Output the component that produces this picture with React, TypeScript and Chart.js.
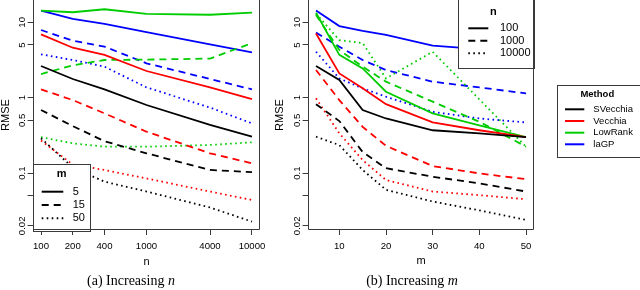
import React, { useEffect, useRef } from 'react';
import { Chart, registerables } from 'chart.js';

Chart.register(...registerables);

// ---------------- data ----------------
const nValues = [100, 200, 400, 1000, 4000, 10000];
const mValues = [5, 10, 15, 20, 30, 40, 50];

const yTickValues = [0.02, 0.05, 0.1, 0.5, 1, 5, 10];
const yTickLabels = ['0.02', '', '0.1', '0.5', '1', '5', '10'];
const nTickValues = [100, 200, 400, 1000, 4000, 10000];
const nTickLabels = ['100', '200', '400', '1000', '4000', '10000'];
const mTickValues = [10, 20, 30, 40, 50];
const mTickLabels = ['10', '20', '30', '40', '50'];

const methodNames = ['SVecchia', 'Vecchia', 'LowRank', 'laGP'];
const methodColors = ['#000000', '#FF0000', '#00CD00', '#0000FF'];
const mLegendTitle = 'm';
const mLegendLabels = ['5', '15', '50'];
const nLegendTitle = 'n';
const nLegendLabels = ['100', '1000', '10000'];
const methodLegendTitle = 'Method';

// Panel (a): RMSE vs n (m = 5, 15, 50)
const aSVecchiaM5 = [2.63, 1.77, 1.29, 0.8, 0.435, 0.304];
const aSVecchiaM15 = [0.687, 0.42, 0.265, 0.183, 0.11, 0.103];
const aSVecchiaM50 = [0.29, 0.118, 0.077, 0.057, 0.035, 0.0227];
const aVecchiaM5 = [6.9, 4.6, 3.7, 2.26, 1.37, 0.96];
const aVecchiaM15 = [1.29, 0.93, 0.62, 0.354, 0.183, 0.135];
const aVecchiaM50 = [0.27, 0.13, 0.11, 0.085, 0.057, 0.044];
const aLowRankM5 = [14.3, 13.6, 14.9, 12.9, 12.6, 13.4];
const aLowRankM15 = [2.06, 2.69, 3.16, 3.2, 3.3, 5.3];
const aLowRankM50 = [0.3, 0.248, 0.224, 0.224, 0.236, 0.256];
const aLaGPM5 = [14.3, 11.1, 9.5, 7.4, 5.1, 4.0];
const aLaGPM15 = [7.9, 5.7, 4.75, 2.86, 1.77, 1.29];
const aLaGPM50 = [3.76, 3.16, 2.58, 1.37, 0.74, 0.457];

// Panel (b): RMSE vs m (n = 100, 1000, 10000)
const bSVecchiaN100 = [2.63, 1.72, 0.687, 0.53, 0.37, 0.337, 0.3];
const bSVecchiaN1000 = [0.82, 0.49, 0.19, 0.116, 0.0895, 0.073, 0.057];
const bSVecchiaN10000 = [0.304, 0.235, 0.11, 0.06, 0.042, 0.032, 0.0239];
const bVecchiaN100 = [7.1, 2.1, 1.33, 0.82, 0.47, 0.37, 0.3];
const bVecchiaN1000 = [2.33, 0.93, 0.41, 0.23, 0.124, 0.099, 0.083];
const bVecchiaN10000 = [0.98, 0.337, 0.149, 0.081, 0.057, 0.051, 0.045];
const bLowRankN100 = [13.4, 3.7, 2.45, 1.2, 0.62, 0.43, 0.3];
const bLowRankN1000 = [12.5, 4.3, 2.58, 1.63, 0.885, 0.48, 0.224];
const bLowRankN10000 = [13.0, 5.8, 5.3, 1.8, 4.07, 0.95, 0.224];
const bLaGPN100 = [14.3, 8.9, 7.7, 6.8, 4.9, 4.4, 4.1];
const bLaGPN1000 = [7.3, 4.75, 3.16, 2.33, 1.63, 1.37, 1.14];
const bLaGPN10000 = [4.07, 1.8, 1.33, 1.03, 0.65, 0.53, 0.47];

// ---------------- styling / layout ----------------
const FONT = '"Liberation Sans", Arial, Helvetica, sans-serif';
const SERIF = '"Liberation Serif", "Times New Roman", serif';
const AXIS_GRAY = '#3a3a3a';
const dashStyles: number[][] = [[], [7, 5], [1.6, 3.4]];
const LINE_W = 1.8;

const Y_MIN = 0.01759;
const Y_MAX = 19.76;
const N_MIN = 83.24;
const N_MAX = 12014;
const M_MIN = 3.2;
const M_MAX = 51.8;

const panelA = [
  [aSVecchiaM5, aSVecchiaM15, aSVecchiaM50],
  [aVecchiaM5, aVecchiaM15, aVecchiaM50],
  [aLowRankM5, aLowRankM15, aLowRankM50],
  [aLaGPM5, aLaGPM15, aLaGPM50],
];
const panelB = [
  [bSVecchiaN100, bSVecchiaN1000, bSVecchiaN10000],
  [bVecchiaN100, bVecchiaN1000, bVecchiaN10000],
  [bLowRankN100, bLowRankN1000, bLowRankN10000],
  [bLaGPN100, bLaGPN1000, bLaGPN10000],
];

function buildDatasets(xs: number[], groups: number[][][], variantNames: string[]) {
  const ds: any[] = [];
  groups.forEach((variants, mi) =>
    variants.forEach((vals, vi) =>
      ds.push({
        label: `${methodNames[mi]} ${variantNames[vi]}`,
        data: vals.map((v, i) => ({ x: xs[i], y: v })),
        borderColor: methodColors[mi],
        backgroundColor: methodColors[mi],
        borderWidth: LINE_W,
        borderDash: dashStyles[vi],
        borderCapStyle: 'butt',
        pointRadius: 0,
        fill: false,
        tension: 0,
      })
    )
  );
  return ds;
}

const gridOpts = {
  drawOnChartArea: false,
  drawTicks: true,
  tickLength: 5,
  color: AXIS_GRAY,
  lineWidth: 1,
};

function yScale() {
  return {
    type: 'logarithmic',
    position: 'left',
    min: Y_MIN,
    max: Y_MAX,
    afterBuildTicks: (s: any) => {
      s.ticks = yTickValues.map((v) => ({ value: v }));
    },
    afterFit: (s: any) => {
      s.width = 32.6;
      s.paddingTop = 0;
      s.paddingBottom = 0;
    },
    ticks: {
      autoSkip: false,
      minRotation: 90,
      maxRotation: 90,
      crossAlign: 'center',
      padding: -4,
      color: '#000',
      font: { family: FONT, size: 9.6 },
      callback: (_v: any, i: number) => yTickLabels[i],
    },
    grid: gridOpts,
    border: { display: false },
  };
}

function xScale(type: string, min: number, max: number, tv: number[], tl: string[]) {
  return {
    type,
    position: 'bottom',
    min,
    max,
    afterBuildTicks: (s: any) => {
      s.ticks = tv.map((v) => ({ value: v }));
    },
    afterFit: (s: any) => {
      s.height = 20;
      s.paddingLeft = 0;
      s.paddingRight = 0;
    },
    ticks: {
      autoSkip: false,
      minRotation: 0,
      maxRotation: 0,
      padding: 6,
      color: '#000',
      font: { family: FONT, size: 9.6 },
      callback: (_v: any, i: number) => tl[i],
    },
    grid: gridOpts,
    border: { display: false },
  };
}

// ---------------- drawing helpers ----------------
function drawFrame(ctx: CanvasRenderingContext2D, a: any) {
  const l = Math.round(a.left) + 0.5;
  const r = Math.round(a.right) - 0.5;
  const b = Math.round(a.bottom) - 0.5;
  ctx.save();
  ctx.strokeStyle = AXIS_GRAY;
  ctx.lineWidth = 1;
  ctx.setLineDash([]);
  ctx.beginPath();
  ctx.moveTo(l, a.top - 2);
  ctx.lineTo(l, b);
  ctx.lineTo(r, b);
  ctx.lineTo(r, a.top - 2);
  ctx.stroke();
  ctx.restore();
}

function drawText(ctx: CanvasRenderingContext2D, text: string, x: number, y: number, font: string, align: CanvasTextAlign = 'center', rotate = 0) {
  ctx.save();
  ctx.fillStyle = '#000';
  ctx.font = font;
  ctx.textAlign = align;
  ctx.textBaseline = 'middle';
  ctx.translate(x, y);
  if (rotate) ctx.rotate(rotate);
  ctx.fillText(text, 0, 0);
  ctx.restore();
}

function drawCaption(ctx: CanvasRenderingContext2D, plain: string, italic: string, cx: number, cy: number) {
  ctx.save();
  const fPlain = `14px ${SERIF}`;
  const fItal = `italic 14px ${SERIF}`;
  ctx.font = fPlain;
  const w1 = ctx.measureText(plain).width;
  ctx.font = fItal;
  const w2 = ctx.measureText(italic).width;
  const x0 = cx - (w1 + w2) / 2;
  ctx.fillStyle = '#000';
  ctx.textBaseline = 'middle';
  ctx.textAlign = 'left';
  ctx.font = fPlain;
  ctx.fillText(plain, x0, cy);
  ctx.font = fItal;
  ctx.fillText(italic, x0 + w1, cy);
  ctx.restore();
}

interface LegendSpec {
  box: [number, number, number, number];
  title: string;
  titleX: number;
  titleY: number;
  titleFont: string;
  rows: number[];
  lineX: [number, number];
  textX: number;
  textFont: string;
  labels: string[];
  colors: string[];
  dashes: number[][];
}

function drawLegend(ctx: CanvasRenderingContext2D, s: LegendSpec) {
  const [x0, y0, x1, y1] = s.box;
  ctx.save();
  ctx.fillStyle = '#fff';
  ctx.fillRect(x0, y0, x1 - x0, y1 - y0);
  ctx.strokeStyle = AXIS_GRAY;
  ctx.lineWidth = 1;
  ctx.setLineDash([]);
  ctx.strokeRect(Math.round(x0) + 0.5, Math.round(y0) + 0.5, Math.round(x1 - x0) - 1, Math.round(y1 - y0) - 1);
  drawText(ctx, s.title, s.titleX, s.titleY, s.titleFont);
  s.labels.forEach((lab, i) => {
    const y = s.rows[i];
    ctx.save();
    ctx.strokeStyle = s.colors[i];
    ctx.lineWidth = 2;
    ctx.setLineDash(s.dashes[i]);
    ctx.beginPath();
    ctx.moveTo(s.lineX[0], y);
    ctx.lineTo(s.lineX[1], y);
    ctx.stroke();
    ctx.restore();
    drawText(ctx, lab, s.textX, y, s.textFont, 'left');
  });
  ctx.restore();
}

const decorA = {
  id: 'decorA',
  afterDatasetsDraw(chart: any) {
    const ctx = chart.ctx;
    drawLegend(ctx, {
      box: [33, 163.5, 91, 231],
      title: mLegendTitle,
      titleX: 61.7,
      titleY: 173.5,
      titleFont: `bold 11px ${FONT}`,
      rows: [191.7, 205, 218.3],
      lineX: [41.7, 63.3],
      textX: 72.7,
      textFont: `11px ${FONT}`,
      labels: mLegendLabels,
      colors: ['#000', '#000', '#000'],
      dashes: dashStyles,
    });
  },
  afterDraw(chart: any) {
    const ctx = chart.ctx;
    const a = chart.chartArea;
    drawFrame(ctx, a);
    drawText(ctx, 'RMSE', 5.5, (a.top + a.bottom) / 2, `11px ${FONT}`, 'center', -Math.PI / 2);
    drawText(ctx, 'n', (a.left + a.right) / 2, 261.5, `11px ${FONT}`);
    drawCaption(ctx, '(a) Increasing ', 'n', 131, 281.5);
  },
};

const decorB = {
  id: 'decorB',
  afterDatasetsDraw(chart: any) {
    const ctx = chart.ctx;
    drawLegend(ctx, {
      box: [458, -2, 535, 68.5],
      title: nLegendTitle,
      titleX: 493.3,
      titleY: 11.7,
      titleFont: `bold 11px ${FONT}`,
      rows: [28.3, 40.8, 53.3],
      lineX: [468.3, 488.3],
      textX: 500,
      textFont: `11px ${FONT}`,
      labels: nLegendLabels,
      colors: ['#000', '#000', '#000'],
      dashes: dashStyles,
    });
  },
  afterDraw(chart: any) {
    const ctx = chart.ctx;
    const a = chart.chartArea;
    drawFrame(ctx, a);
    drawText(ctx, 'RMSE', 279.5, (a.top + a.bottom) / 2, `11px ${FONT}`, 'center', -Math.PI / 2);
    drawText(ctx, 'm', (a.left + a.right) / 2, 261, `11px ${FONT}`);
    drawCaption(ctx, '(b) Increasing ', 'm', 412, 281.5);
    drawLegend(ctx, {
      box: [556.5, 84.5, 640, 157],
      title: methodLegendTitle,
      titleX: 597.3,
      titleY: 94,
      titleFont: `bold 9.5px ${FONT}`,
      rows: [109.3, 121, 132.7, 144.3],
      lineX: [565, 584.3],
      textX: 593.3,
      textFont: `9.5px ${FONT}`,
      labels: methodNames,
      colors: methodColors,
      dashes: [[], [], [], []],
    });
  },
};

export default function App() {
  const refA = useRef<HTMLCanvasElement | null>(null);
  const refB = useRef<HTMLCanvasElement | null>(null);

  useEffect(() => {
    if (!refA.current || !refB.current) return;
    const common = {
      responsive: false,
      maintainAspectRatio: false,
      animation: false,
      events: [],
      plugins: { legend: { display: false }, tooltip: { enabled: false }, title: { display: false } },
    };
    const chartA = new Chart(refA.current, {
      type: 'line',
      data: { datasets: buildDatasets(nValues, panelA, mLegendLabels) },
      options: {
        ...common,
        layout: { padding: { left: 0, top: 0, right: 640 - 260.4, bottom: 290 - 230 - 20 } },
        scales: {
          x: xScale('logarithmic', N_MIN, N_MAX, nTickValues, nTickLabels),
          y: yScale(),
        },
      } as any,
      plugins: [decorA],
    });
    const chartB = new Chart(refB.current, {
      type: 'line',
      data: { datasets: buildDatasets(mValues, panelB, nLegendLabels) },
      options: {
        ...common,
        layout: { padding: { left: 307.6 - 32.6, top: 0, right: 640 - 534.4, bottom: 290 - 230 - 20 } },
        scales: {
          x: xScale('linear', M_MIN, M_MAX, mTickValues, mTickLabels),
          y: yScale(),
        },
      } as any,
      plugins: [decorB],
    });
    return () => {
      chartA.destroy();
      chartB.destroy();
    };
  }, []);

  const cStyle: React.CSSProperties = { position: 'absolute', left: 0, top: 0, width: 640, height: 290 };
  return (
    <div style={{ position: 'fixed', left: 0, top: 0, width: 640, height: 290, background: '#fff' }}>
      <canvas ref={refA} width={640} height={290} style={cStyle} />
      <canvas ref={refB} width={640} height={290} style={cStyle} />
    </div>
  );
}
